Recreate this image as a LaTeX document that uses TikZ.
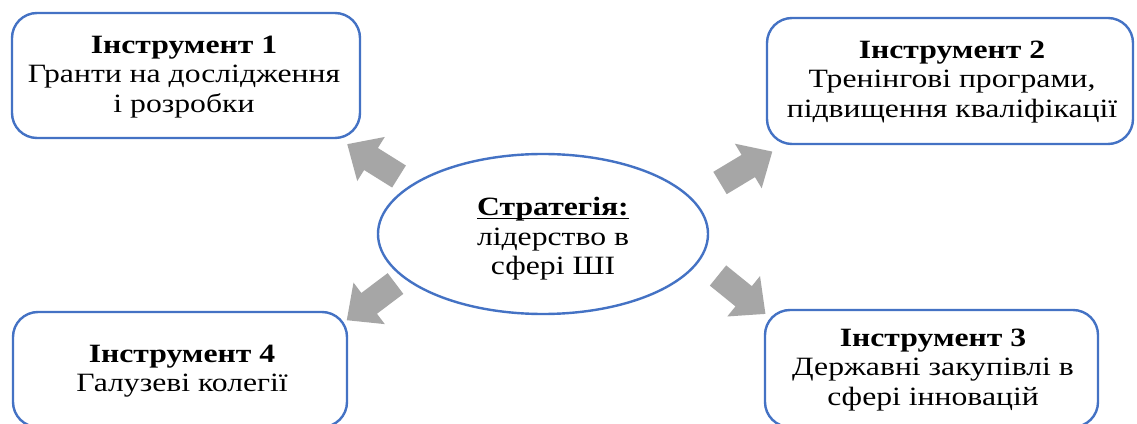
\documentclass[tikz,border=0pt]{standalone}
\usepackage{fontspec}
\setmainfont[FakeStretch=1.2]{Liberation Serif}
\newcommand{\myul}[1]{\setbox0\hbox{#1}\rlap{\rule[-3.5pt]{\wd0}{1.8pt}}\box0}
\begin{document}
\begin{tikzpicture}[x=1pt,y=1pt,
  boxstyle/.style={draw=boxblue, line width=2.4pt, rounded corners=25pt},
  txt/.style={align=center, font=\fontsize{26.4}{29.5}\selectfont, inner sep=0pt},
  blockarr/.style={fill=arrgray, draw=none}]
\definecolor{boxblue}{HTML}{4472C4}
\definecolor{arrgray}{HTML}{A6A6A6}
\useasboundingbox (0,0) rectangle (1137,423);
\clip (0,0) rectangle (1137,423);
\fill[white] (0,0) rectangle (1137,423);
% boxes
\draw[boxstyle] (12,285) rectangle (360,410);
\draw[boxstyle] (767,279) rectangle (1133,405);
\draw[boxstyle] (765,-4) rectangle (1098,113);
\draw[boxstyle] (13,-4) rectangle (347,111);
% ellipse
\draw[draw=boxblue, line width=2.4pt] (543,189) ellipse [x radius=165, y radius=80];
% texts
\node[txt] (t1) at (184,346) {\textbf{Інструмент 1}\\Гранти на дослідження\\і розробки};
\node[txt] (t2) at (952,341) {\textbf{Інструмент 2}\\Тренінгові програми,\\підвищення кваліфікації};
\node[txt] (t3) at (933,53) {\textbf{Інструмент 3}\\Державні закупівлі в\\сфері інновацій};
\node[txt] (t4) at (182,52) {\textbf{Інструмент 4}\\Галузеві колегії};
\node[txt] (c) at (553,184) {\myul{\textbf{Стратегія:}}\\лідерство в\\сфері ШІ};
% block arrows
\foreach \tx/\ty/\ang in {399/246.5/148, 720/240/31, 395.5/139.5/217, 718/147.5/-39}{
  \fill[blockarr, shift={(\tx,\ty)}, rotate=\ang]
    (0,13) -- (33,13) -- (33,26) -- (61,0) -- (33,-26) -- (33,-13) -- (0,-13) -- cycle;
}
\end{tikzpicture}
\end{document}
